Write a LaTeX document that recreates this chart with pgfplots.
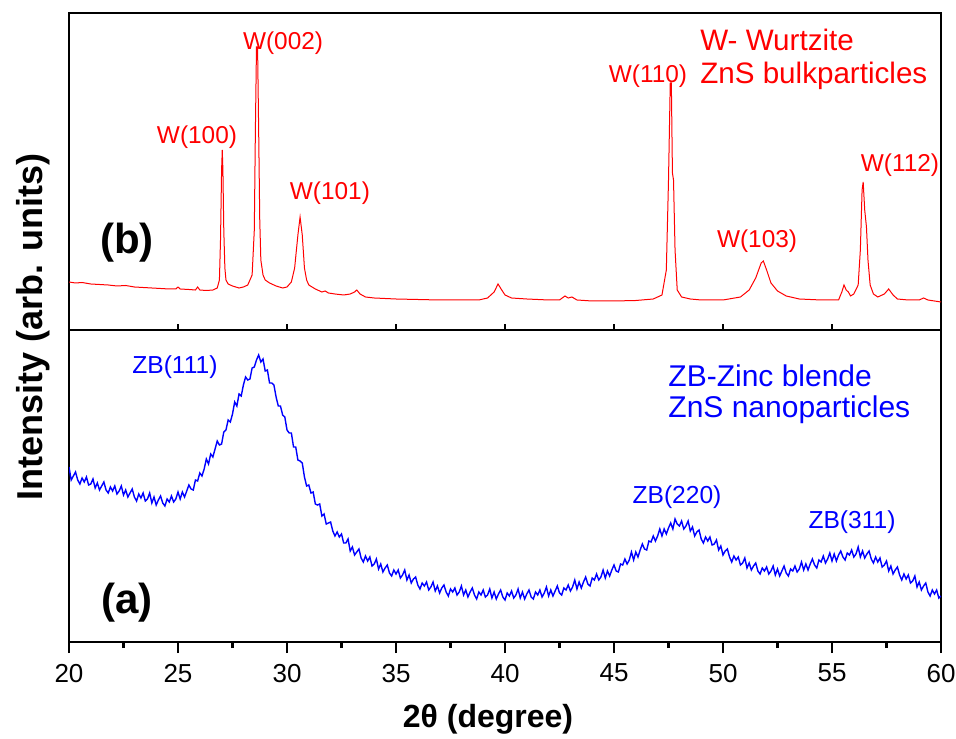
\documentclass[border=0pt]{standalone}
\usepackage{pgfplots}
\pgfplotsset{compat=1.18}
\usepackage{fontspec}
\setmainfont{Liberation Sans}
\begin{document}
\begin{tikzpicture}
\path[use as bounding box] (-34.5pt,-48pt) rectangle (443.5pt,321pt);
\pgfplotsset{every axis/.append style={scale only axis, width=436pt, xmin=20, xmax=60, ytick=\empty,
  axis line style={line width=1.2pt}, /pgf/number format/assume math mode=true,
  tick style={line width=1.2pt, black},
  xtick={20,25,...,60}, minor xtick={22.5,27.5,...,57.5}, xtick pos=bottom}}
% bottom panel (a)
\begin{axis}[at={(0,0)}, anchor=south west, height=156pt, ymin=0, ymax=312,
  tick align=outside, major tick length=5.5pt, minor tick length=3pt,
  ticklabel style={font=\fontsize{13}{15}\selectfont},
  xticklabel style={yshift=-2pt},
  xlabel={2θ (degree)}, xlabel style={font=\bfseries\fontsize{16}{18}\selectfont, yshift=-4pt, xshift=-8.5pt}]
\addplot[blue, line width=0.7pt, mark=none] coordinates {
(20.0,175)(20.1,162)(20.2,166)(20.3,170)(20.4,162)(20.5,158)(20.6,164)(20.7,160)(20.8,165)(20.9,157)
(21.0,158)(21.1,163)(21.2,154)(21.3,159)(21.4,152)(21.5,156)(21.6,160)(21.7,152)(21.8,149)(21.9,155)
(22.0,151)(22.1,156)(22.2,148)(22.3,151)(22.4,156)(22.5,147)(22.6,152)(22.7,145)(22.8,149)(22.9,153)
(23.0,145)(23.1,141)(23.2,148)(23.3,144)(23.4,149)(23.5,141)(23.6,143)(23.7,149)(23.8,139)(23.9,145)
(24.0,137)(24.1,142)(24.2,146)(24.3,139)(24.4,136)(24.5,143)(24.6,140)(24.7,146)(24.8,140)(24.9,143)
(25.0,150)(25.1,143)(25.2,150)(25.3,145)(25.4,151)(25.5,157)(25.6,153)(25.7,152)(25.8,162)(25.9,161)
(26.0,169)(26.1,166)(26.2,173)(26.3,183)(26.4,178)(26.5,188)(26.6,185)(26.7,193)(26.8,201)(26.9,197)
(27.0,198)(27.1,210)(27.2,212)(27.3,222)(27.4,220)(27.5,228)(27.6,240)(27.7,236)(27.8,248)(27.9,246)
(28.0,257)(28.1,265)(28.2,262)(28.3,263)(28.4,274)(28.5,275)(28.6,282)(28.7,287)(28.8,280)(28.9,283)
(29.0,271)(29.1,272)(29.2,259)(29.3,259)(29.4,257)(29.5,245)(29.6,236)(29.7,236)(29.8,227)(29.9,225)
(30.0,212)(30.1,209)(30.2,209)(30.3,195)(30.4,195)(30.5,182)(30.6,181)(30.7,179)(30.8,165)(30.9,156)
(31.0,157)(31.1,149)(31.2,150)(31.3,138)(31.4,137)(31.5,138)(31.6,126)(31.7,128)(31.8,118)(31.9,119)
(32.0,120)(32.1,111)(32.2,106)(32.3,110)(32.4,105)(32.5,108)(32.6,99)(32.7,99)(32.8,103)(32.9,91)
(33.0,95)(33.1,87)(33.2,90)(33.3,93)(33.4,84)(33.5,80)(33.6,86)(33.7,81)(33.8,85)(33.9,76)
(34.0,78)(34.1,83)(34.2,73)(34.3,78)(34.4,70)(34.5,74)(34.6,77)(34.7,69)(34.8,66)(34.9,72)
(35.0,68)(35.1,72)(35.2,64)(35.3,67)(35.4,72)(35.5,62)(35.6,67)(35.7,59)(35.8,63)(35.9,65)
(36.0,57)(36.1,53)(36.2,59)(36.3,56)(36.4,60)(36.5,52)(36.6,55)(36.7,60)(36.8,51)(36.9,56)
(37.0,49)(37.1,54)(37.2,57)(37.3,50)(37.4,46)(37.5,53)(37.6,50)(37.7,54)(37.8,47)(37.9,50)
(38.0,56)(38.1,47)(38.2,52)(38.3,45)(38.4,50)(38.5,54)(38.6,47)(38.7,43)(38.8,50)(38.9,47)
(39.0,52)(39.1,45)(39.2,47)(39.3,53)(39.4,44)(39.5,50)(39.6,43)(39.7,48)(39.8,52)(39.9,45)
(40.0,42)(40.1,49)(40.2,46)(40.3,51)(40.4,44)(40.5,47)(40.6,53)(40.7,44)(40.8,50)(40.9,43)
(41.0,48)(41.1,52)(41.2,45)(41.3,43)(41.4,50)(41.5,47)(41.6,52)(41.7,45)(41.8,49)(41.9,55)
(42.0,46)(42.1,52)(42.2,46)(42.3,51)(42.4,56)(42.5,49)(42.6,47)(42.7,54)(42.8,52)(42.9,57)
(43.0,51)(43.1,55)(43.2,62)(43.3,53)(43.4,60)(43.5,54)(43.6,60)(43.7,65)(43.8,58)(43.9,56)
(44.0,64)(44.1,62)(44.2,68)(44.3,62)(44.4,65)(44.5,72)(44.6,64)(44.7,71)(44.8,66)(44.9,72)
(45.0,77)(45.1,71)(45.2,70)(45.3,78)(45.4,77)(45.5,83)(45.6,78)(45.7,82)(45.8,90)(45.9,82)
(46.0,90)(46.1,85)(46.2,92)(46.3,98)(46.4,93)(46.5,92)(46.6,101)(46.7,100)(46.8,106)(46.9,101)
(47.0,106)(47.1,113)(47.2,106)(47.3,113)(47.4,108)(47.5,114)(47.6,119)(47.7,113)(47.8,123)(47.9,118)
(48.0,116)(48.1,121)(48.2,113)(48.3,116)(48.4,121)(48.5,111)(48.6,115)(48.7,106)(48.8,110)(48.9,112)
(49.0,103)(49.1,99)(49.2,105)(49.3,101)(49.4,105)(49.5,97)(49.6,98)(49.7,102)(49.8,92)(49.9,96)
(50.0,87)(50.1,91)(50.2,93)(50.3,85)(50.4,80)(50.5,86)(50.6,82)(50.7,85)(50.8,77)(50.9,79)
(51.0,84)(51.1,74)(51.2,79)(51.3,72)(51.4,76)(51.5,79)(51.6,71)(51.7,68)(51.8,74)(51.9,71)
(52.0,75)(52.1,68)(52.2,71)(52.3,76)(52.4,67)(52.5,73)(52.6,66)(52.7,71)(52.8,76)(52.9,69)
(53.0,66)(53.1,73)(53.2,71)(53.3,76)(53.4,70)(53.5,73)(53.6,80)(53.7,72)(53.8,78)(53.9,72)
(54.0,78)(54.1,83)(54.2,77)(54.3,74)(54.4,82)(54.5,80)(54.6,86)(54.7,79)(54.8,83)(54.9,89)
(55.0,81)(55.1,88)(55.2,81)(55.3,87)(55.4,91)(55.5,85)(55.6,82)(55.7,89)(55.8,87)(55.9,92)
(56.0,85)(56.1,88)(56.2,95)(56.3,85)(56.4,91)(56.5,84)(56.6,88)(56.7,91)(56.8,83)(56.9,79)
(57.0,85)(57.1,80)(57.2,84)(57.3,75)(57.4,77)(57.5,81)(57.6,71)(57.7,76)(57.8,68)(57.9,72)
(58.0,75)(58.1,67)(58.2,62)(58.3,68)(58.4,63)(58.5,67)(58.6,59)(58.7,61)(58.8,66)(58.9,55)
(59.0,60)(59.1,52)(59.2,56)(59.3,59)(59.4,50)(59.5,46)(59.6,52)(59.7,48)(59.8,52)(59.9,44)(60.0,46)
};
\node[blue, font=\fontsize{12.3}{14}\selectfont] at (axis cs:24.86,275) {ZB(111)};
\node[blue, font=\fontsize{12.3}{14}\selectfont] at (axis cs:47.89,145) {ZB(220)};
\node[blue, font=\fontsize{12.3}{14}\selectfont] at (axis cs:55.92,120) {ZB(311)};
\node[blue, anchor=west, font=\fontsize{15}{17}\selectfont, inner sep=0pt] at (axis cs:47.48,266) {ZB-Zinc blende};
\node[blue, anchor=west, font=\fontsize{15}{17}\selectfont, inner sep=0pt] at (axis cs:47.48,232) {ZnS nanoparticles};
\node[font=\bfseries\fontsize{21}{24}\selectfont] at (axis cs:22.66,39) {(a)};
\end{axis}
% top panel (b)
\begin{axis}[at={(0,156pt)}, anchor=south west, height=158.5pt, ymin=0, ymax=317,
  tick align=inside, major tick length=3pt, minor tick length=0pt, xticklabels={}]
\addplot[red, line width=0.5pt, mark=none] coordinates {
(20.0,48)(20.3,47)(20.6,47.5)(21.0,46)(21.4,45.5)(21.8,45)(22.2,44)(22.6,44.5)(23.0,43)(23.4,42.5)
(23.8,42)(24.2,41.5)(24.6,41)(24.9,41)(25.0,43)(25.1,41)(25.5,40.5)(25.8,40)(25.9,43)(26.0,40)
(26.3,39.5)(26.6,40)(26.8,42)(26.9,50)(26.95,90)(27.0,160)(27.03,180)(27.06,160)(27.1,100)(27.15,62)
(27.2,50)(27.3,46)(27.5,44)(27.8,42)(28.0,43)(28.2,45)(28.4,55)(28.5,100)(28.55,200)(28.6,283)
(28.65,283)(28.7,200)(28.75,110)(28.8,70)(28.9,55)(29.0,50)(29.2,47)(29.5,44)(29.8,42)(30.0,43)
(30.2,48)(30.35,62)(30.5,95)(30.6,113)(30.7,95)(30.8,62)(30.9,50)(31.0,45)(31.3,41)(31.6,38)
(31.75,39)(31.9,37)(32.2,36)(32.6,35)(32.9,36)(33.1,38)(33.2,40)(33.35,36)(33.6,33)(34.0,32)
(35.0,31)(36.0,30.5)(37.0,30)(38.0,30)(38.8,30)(39.2,32)(39.5,38)(39.68,46)(39.85,40)(40.0,35)
(40.3,32)(41.0,31)(42.0,30)(42.5,30)(42.75,34)(42.9,32)(43.07,33)(43.3,30)(44.0,29)(45.0,29)
(46.0,29.5)(46.8,31)(47.2,35)(47.4,60)(47.5,150)(47.58,247)(47.63,247)(47.68,157)(47.73,150)(47.8,80)
(47.9,40)(48.1,33)(48.5,31)(49.0,30)(50.0,30)(50.8,33)(51.2,40)(51.5,52)(51.75,67)(51.85,69)
(52.0,60)(52.2,47)(52.5,39)(52.9,34)(53.5,31)(54.5,30)(55.3,30)(55.45,38)(55.55,45)(55.65,40)
(55.75,38)(55.85,34)(56.0,36)(56.2,45)(56.3,80)(56.38,140)(56.43,148)(56.5,120)(56.58,103)(56.65,70)
(56.75,45)(56.9,36)(57.1,33)(57.4,36)(57.6,41)(57.8,35)(58.0,31)(58.5,30)(59.0,30)(59.2,32)
(59.4,30)(60.0,28)
};
\node[red, font=\fontsize{12.2}{14}\selectfont] at (axis cs:25.87,193) {W(100)};
\node[red, font=\fontsize{12.2}{14}\selectfont] at (axis cs:29.82,287) {W(002)};
\node[red, font=\fontsize{12.2}{14}\selectfont] at (axis cs:31.97,137) {W(101)};
\node[red, font=\fontsize{12.2}{14}\selectfont] at (axis cs:46.56,254) {W(110)};
\node[red, font=\fontsize{12.2}{14}\selectfont] at (axis cs:51.56,89) {W(103)};
\node[red, font=\fontsize{12.2}{14}\selectfont] at (axis cs:58.12,165) {W(112)};
\node[red, anchor=west, font=\fontsize{14.8}{17}\selectfont, inner sep=0pt] at (axis cs:48.94,290) {W- Wurtzite};
\node[red, anchor=west, font=\fontsize{14.8}{17}\selectfont, inner sep=0pt] at (axis cs:48.94,254) {ZnS bulkparticles};
\node[font=\bfseries\fontsize{21}{24}\selectfont] at (axis cs:22.66,87) {(b)};
\end{axis}
\node[rotate=90, font=\bfseries\fontsize{18}{20}\selectfont] at (-18pt,157.5pt) {Intensity (arb. units)};
\end{tikzpicture}
\end{document}
